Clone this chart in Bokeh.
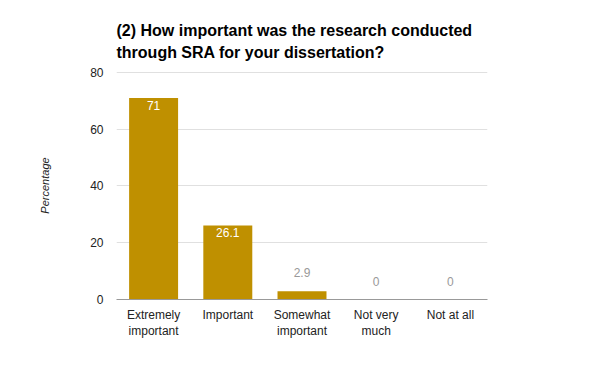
from bokeh.plotting import figure
from bokeh.models import ColumnDataSource, FixedTicker, FactorRange, Range1d
from bokeh.core.properties import value
from bokeh.embed import file_html
from bokeh.resources import INLINE

categories = ["Extremely\nimportant", "Important", "Somewhat\nimportant", "Not very\nmuch", "Not at all"]
percentages = [71, 26.1, 2.9, 0, 0]
y_ticks = [0, 20, 40, 60, 80]

FONT = "Liberation Sans"
BAR = "#bf9000"

inside = [v >= 10 for v in percentages]
src_in = ColumnDataSource(dict(x=[c for c, i in zip(categories, inside) if i],
                               y=[v for v, i in zip(percentages, inside) if i],
                               t=[str(v) for v, i in zip(percentages, inside) if i]))
src_out = ColumnDataSource(dict(x=[c for c, i in zip(categories, inside) if not i],
                                y=[v for v, i in zip(percentages, inside) if not i],
                                t=[str(v) for v, i in zip(percentages, inside) if not i]))

p = figure(width=584, height=355, x_range=FactorRange(*categories, range_padding=0),
           y_range=Range1d(0, 80.3), output_backend="svg", toolbar_location=None,
           min_border_left=116, min_border_right=97, min_border_top=71, min_border_bottom=56)

p.title.text = "(2) How important was the research conducted\nthrough SRA for your dissertation?"
p.title.text_font = FONT
p.title.text_font_size = "16px"
p.title.text_font_style = "bold"
p.title.text_color = "#000000"
p.title.text_line_height = 1.3
p.title.align = "left"
p.title.standoff = 20

p.vbar(x=categories, top=percentages, width=0.66, color=BAR, line_color=None)

p.text(x="x", y="y", text="t", source=src_in, text_align="center", text_baseline="top",
       y_offset=3, text_color="#ffffff", text_font=value(FONT), text_font_size="12px")
p.text(x="x", y="y", text="t", source=src_out, text_align="center", text_baseline="bottom",
       y_offset=-14, text_color="#999999", text_font=value(FONT), text_font_size="12px")

p.outline_line_color = None
p.background_fill_color = "white"
p.border_fill_color = "white"
p.xgrid.grid_line_color = None
p.ygrid.grid_line_color = "#e0e0e0"
p.yaxis.ticker = FixedTicker(ticks=y_ticks)
p.yaxis.axis_line_color = None
p.yaxis.major_tick_line_color = None
p.yaxis.minor_tick_line_color = None
p.yaxis.major_tick_out = 0
p.yaxis.major_label_text_font = FONT
p.yaxis.major_label_text_font_size = "12px"
p.yaxis.major_label_text_color = "#222222"
p.yaxis.major_label_standoff = 13
p.yaxis.axis_label = "Percentage"
p.yaxis.axis_label_text_font = FONT
p.yaxis.axis_label_text_font_size = "11px"
p.yaxis.axis_label_text_font_style = "italic"
p.yaxis.axis_label_text_color = "#222222"
p.yaxis.axis_label_standoff = 36

p.xaxis.axis_line_color = "#999999"
p.xaxis.major_tick_line_color = None
p.xaxis.minor_tick_line_color = None
p.xaxis.major_tick_out = 0
p.xaxis.major_label_text_font = FONT
p.xaxis.major_label_text_font_size = "12px"
p.xaxis.major_label_text_color = "#222222"
p.xaxis.major_label_standoff = 8

open("out.html", "w").write(file_html(p, INLINE))
